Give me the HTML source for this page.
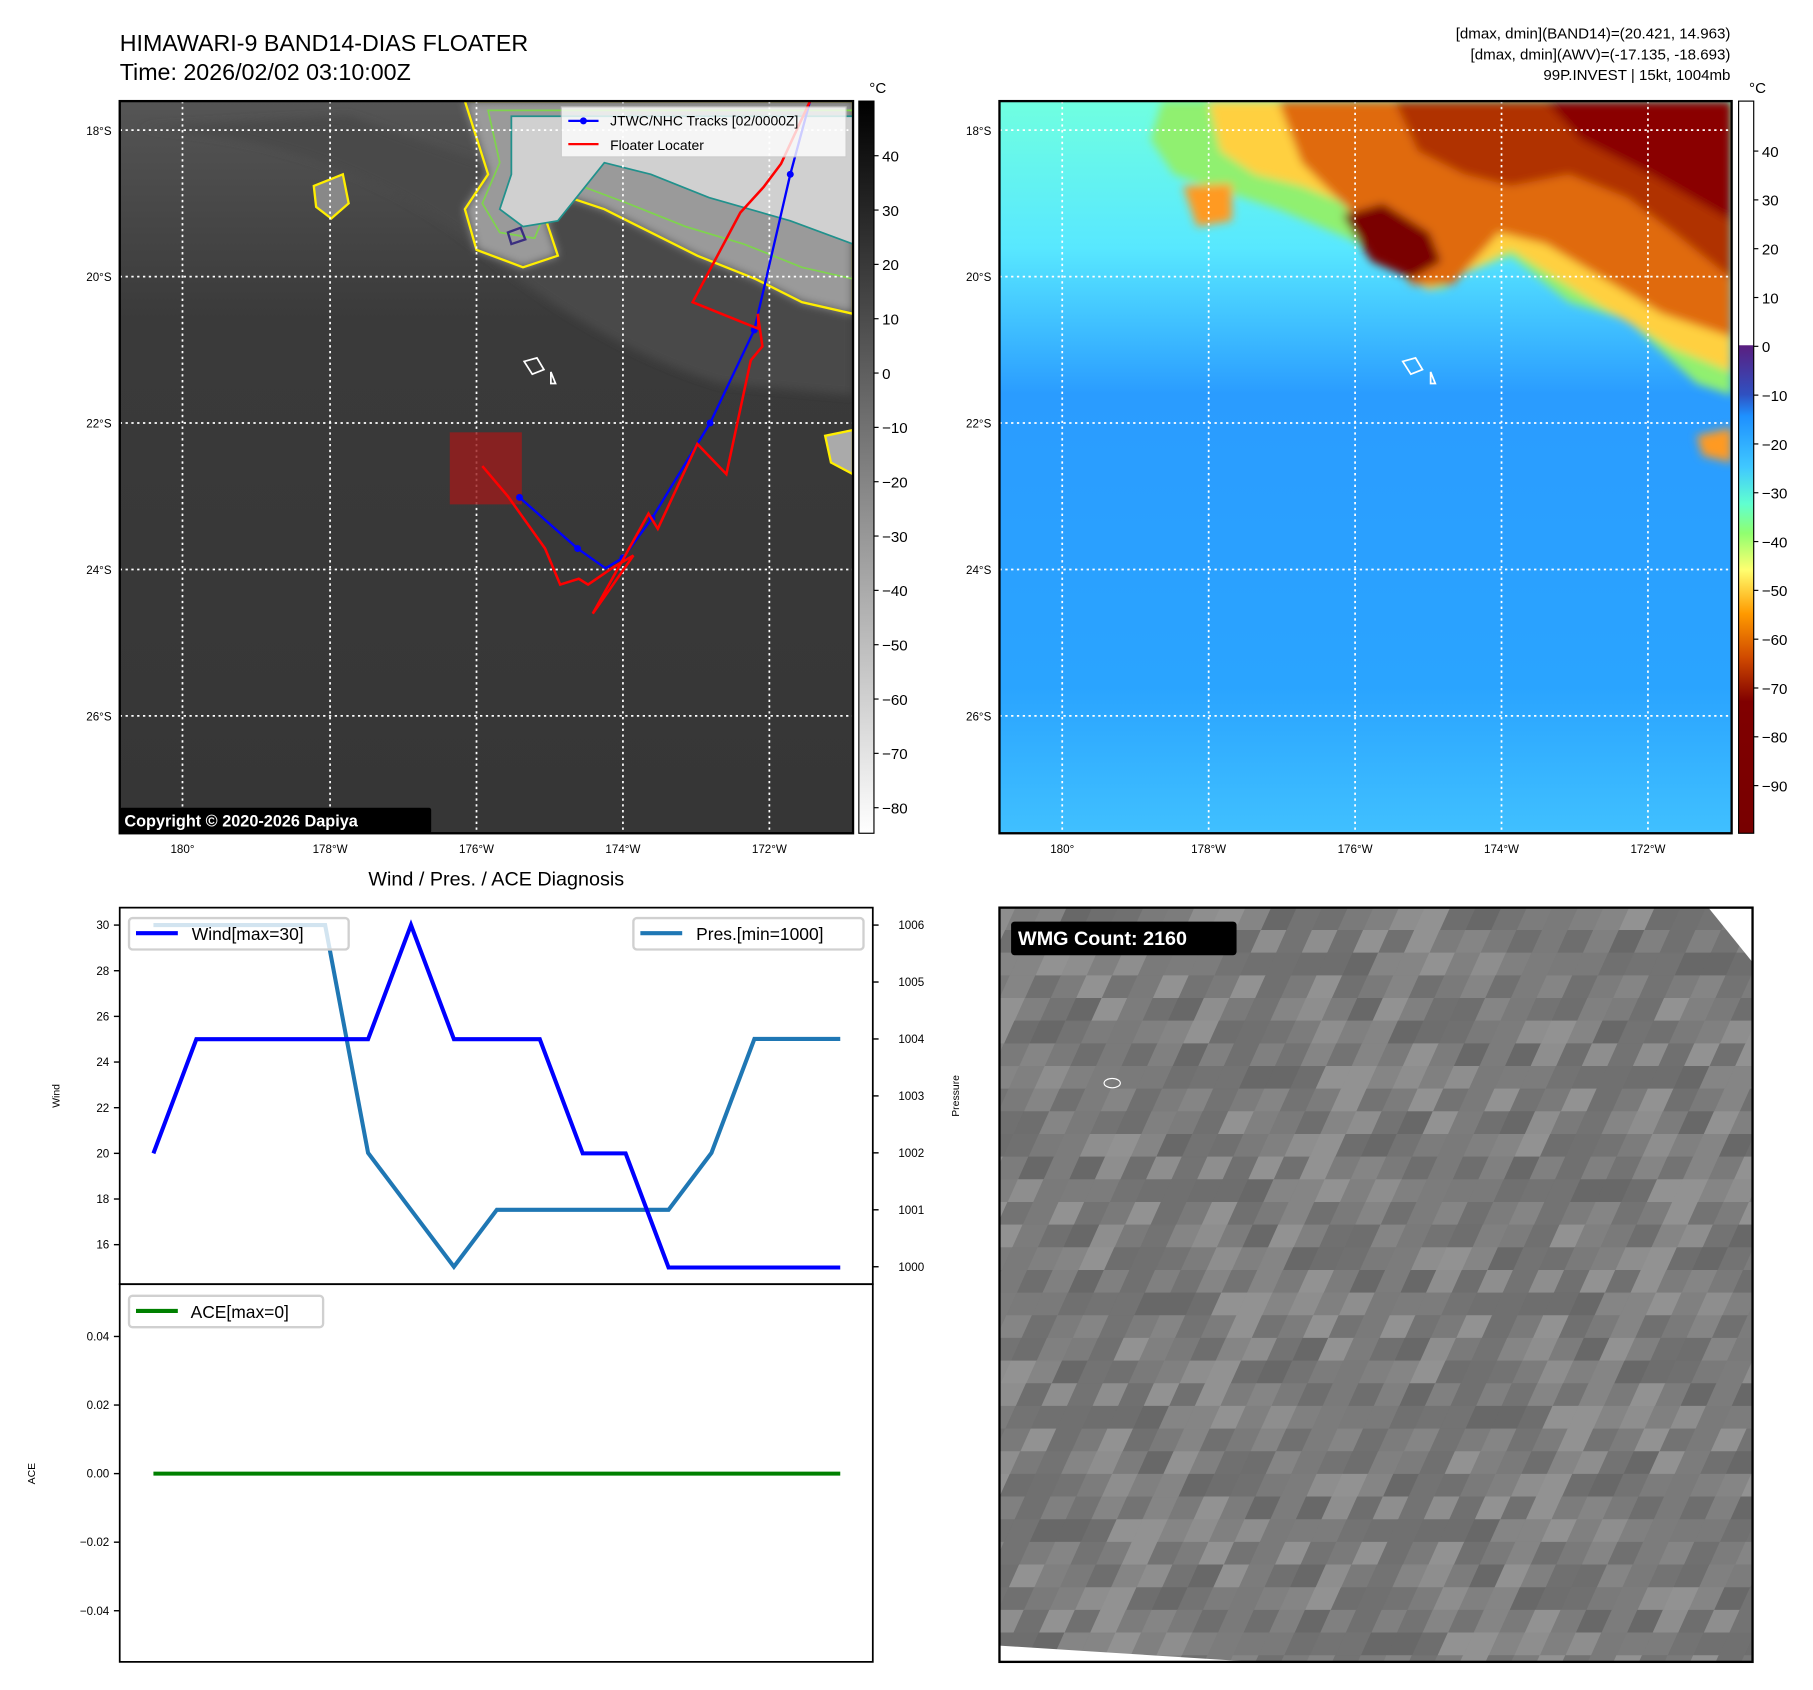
<!DOCTYPE html>
<html><head><meta charset="utf-8">
<style>
html,body{margin:0;padding:0;background:#fff;}
svg{display:block;font-family:"Liberation Sans","DejaVu Sans",sans-serif;}
</style></head>
<body>
<svg id="root" width="1813" height="1690" viewBox="0 0 1560 1454.2" xmlns="http://www.w3.org/2000/svg">
<defs>
  <linearGradient id="cb1" x1="0" y1="0" x2="0" y2="1">
    <stop offset="0" stop-color="#000"/><stop offset="1" stop-color="#fff"/>
  </linearGradient>
  <linearGradient id="cb2" x1="0" y1="0" x2="0" y2="1">
    <stop offset="0" stop-color="#fff"/><stop offset="0.333" stop-color="#fff"/>
    <stop offset="0.334" stop-color="#5a1f80"/><stop offset="0.40" stop-color="#3050c0"/>
    <stop offset="0.43" stop-color="#1e90ff"/><stop offset="0.50" stop-color="#40c8ff"/>
    <stop offset="0.55" stop-color="#60ffd0"/><stop offset="0.59" stop-color="#90ff70"/>
    <stop offset="0.64" stop-color="#ffff70"/><stop offset="0.70" stop-color="#ff9a00"/>
    <stop offset="0.76" stop-color="#d04a00"/><stop offset="0.82" stop-color="#800000"/>
    <stop offset="1" stop-color="#780000"/>
  </linearGradient>
  <linearGradient id="bg2" x1="0" y1="0" x2="0" y2="1">
    <stop offset="0" stop-color="#70ffe0"/><stop offset="0.2" stop-color="#58e8ff"/>
    <stop offset="0.4" stop-color="#2a9cff"/><stop offset="0.8" stop-color="#2aa4ff"/>
    <stop offset="1" stop-color="#40c0ff"/>
  </linearGradient>
  <linearGradient id="bg1" x1="0" y1="0" x2="0" y2="1">
    <stop offset="0" stop-color="#555"/><stop offset="0.3" stop-color="#3a3a3a"/>
    <stop offset="1" stop-color="#363636"/>
  </linearGradient>
  <filter id="blur4"><feGaussianBlur stdDeviation="4"/></filter>
  <clipPath id="clip1"><rect x="103" y="87" width="631" height="630"/></clipPath>
  <clipPath id="clip2"><rect x="860" y="87" width="630" height="630"/></clipPath>
  <clipPath id="clip3"><rect x="860" y="781" width="648" height="649"/></clipPath>
</defs>

<text x="103" y="44" font-size="20">HIMAWARI-9 BAND14-DIAS FLOATER</text>
<text x="103" y="69" font-size="20">Time: 2026/02/02 03:10:00Z</text>
<g font-size="13" text-anchor="end">
  <text x="1489" y="33">[dmax, dmin](BAND14)=(20.421, 14.963)</text>
  <text x="1489" y="51">[dmax, dmin](AWV)=(-17.135, -18.693)</text>
  <text x="1489" y="69">99P.INVEST | 15kt, 1004mb</text>
</g>

<g>
  <g clip-path="url(#clip1)">
    <rect x="103" y="87" width="631" height="630" fill="url(#bg1)"/>
    <path d="M120,110 Q300,120 420,220 Q520,300 620,330 L734,340 L734,200 L500,170 L300,100 Z" fill="#4a4a4a" filter="url(#blur4)"/>
    <path d="M400,87 L734,87 L734,270 L690,260 L650,240 L600,220 L560,200 L520,180 L490,170 L470,190 L480,220 L450,230 L410,215 L400,180 L420,150 Z" fill="#9a9a9a" filter="url(#blur4)"/>
    <path d="M400,87 L734,87 L734,270 L690,260 L650,240 L600,220 L560,200 L520,180 L490,170 L470,190 L480,220 L450,230 L410,215 L400,180 L420,150 Z" fill="none" stroke="#ffee00" stroke-width="2"/>
    <path d="M420,95 L734,95 L734,240 L690,230 L640,210 L590,195 L540,175 L500,160 L470,180 L460,205 L430,200 L415,175 L430,140 Z" fill="none" stroke="#7fd34e" stroke-width="1.5"/>
    <path d="M440,100 L734,100 L734,210 L680,190 L610,170 L560,150 L520,140 L480,190 L450,195 L430,180 L440,150 Z" fill="#d0d0d0" stroke="#21918c" stroke-width="1.5" filter="none"/>
    <path d="M437,200 L448,196 L452,206 L440,210 Z" fill="none" stroke="#3b2f80" stroke-width="2"/>
    <path d="M270,160 L295,150 L300,175 L285,188 L272,178 Z" fill="#888" stroke="#ffee00" stroke-width="2"/>
    <path d="M710,375 L734,370 L734,408 L715,398 Z" fill="#aaa" stroke="#ffee00" stroke-width="2"/>
    <g stroke="#fff" stroke-width="1.5" stroke-dasharray="2,3">
      <line x1="157" y1="87" x2="157" y2="717"/><line x1="284" y1="87" x2="284" y2="717"/>
      <line x1="410" y1="87" x2="410" y2="717"/><line x1="536" y1="87" x2="536" y2="717"/>
      <line x1="662" y1="87" x2="662" y2="717"/>
      <line x1="103" y1="112" x2="734" y2="112"/><line x1="103" y1="238" x2="734" y2="238"/>
      <line x1="103" y1="364" x2="734" y2="364"/><line x1="103" y1="490" x2="734" y2="490"/>
      <line x1="103" y1="616" x2="734" y2="616"/>
    </g>
    <path d="M451,311 L462,308 L468,318 L458,322 Z M474,320 L478,330 L474,330 Z" fill="none" stroke="#fff" stroke-width="1.5"/>
    <rect x="387" y="372" width="62" height="62" fill="#9b1c1c" opacity="0.8"/>
    <polyline points="697,87 680,150 649,284 611,364 561,446 536,480 521,489 497,472 447,428" fill="none" stroke="#0000ff" stroke-width="2"/>
    <g fill="#0000ff"><circle cx="680" cy="150" r="3"/><circle cx="649" cy="284" r="3"/><circle cx="611" cy="364" r="3"/><circle cx="561" cy="446" r="3"/><circle cx="536" cy="480" r="3"/><circle cx="497" cy="472" r="3"/><circle cx="447" cy="428" r="3"/></g>
    <polyline points="697,87 672,141 657,161 637,183 596,260 653,283 652,270 656,298 646,310 625,408 600,382 566,455 558,442 510,528 545,478 528,488 506,503 498,498 482,503 469,472 437,427 415,401" fill="none" stroke="#ff0000" stroke-width="2.2"/>
  </g>
  <rect x="103" y="87" width="631" height="630" fill="none" stroke="#000" stroke-width="2"/>
  <g>
    <rect x="483" y="92" width="245" height="43" fill="#fff" opacity="0.8" stroke="#ccc"/>
    <line x1="489" y1="104" x2="515" y2="104" stroke="#0000ff" stroke-width="2"/><circle cx="502" cy="104" r="3" fill="#0000ff"/>
    <text x="525" y="108" font-size="12">JTWC/NHC Tracks [02/0000Z]</text>
    <line x1="489" y1="124" x2="515" y2="124" stroke="#ff0000" stroke-width="2"/>
    <text x="525" y="129" font-size="12">Floater Locater</text>
  </g>
  <rect x="103" y="695" width="268" height="22" fill="#000" rx="2"/>
  <text x="107" y="711" font-size="14" font-weight="bold" fill="#fff">Copyright © 2020-2026 Dapiya</text>
  <g font-size="10" text-anchor="end">
    <text x="96" y="116">18°S</text><text x="96" y="242">20°S</text><text x="96" y="368">22°S</text><text x="96" y="494">24°S</text><text x="96" y="620">26°S</text>
  </g>
  <g font-size="10" text-anchor="middle">
    <text x="157" y="734">180°</text><text x="284" y="734">178°W</text><text x="410" y="734">176°W</text><text x="536" y="734">174°W</text><text x="662" y="734">172°W</text>
  </g>
</g>
<g>
  <rect x="739" y="87" width="13" height="630" fill="url(#cb1)" stroke="#000" stroke-width="1"/>
  <text x="748" y="80" font-size="13">°C</text>
  <g font-size="13" id="cb1labels"></g>
</g>

<g>
  <g clip-path="url(#clip2)">
    <rect x="860" y="87" width="630" height="630" fill="url(#bg2)"/>
    <g filter="url(#blur4)">
    <path d="M1000,87 L1490,87 L1490,340 L1460,330 L1400,275 L1350,260 L1300,220 L1260,235 L1240,250 L1210,230 L1160,205 L1100,180 L1040,160 L1010,150 L990,120 Z" fill="#90f070"/>
    <path d="M1040,87 L1490,87 L1490,320 L1440,300 L1380,265 L1340,240 L1300,215 L1260,235 L1230,250 L1200,230 L1170,180 L1120,160 L1080,150 L1050,130 Z" fill="#ffd040"/>
    <path d="M1100,87 L1490,87 L1490,290 L1430,270 L1380,240 L1330,210 L1290,200 L1250,245 L1215,245 L1180,200 L1150,170 L1120,140 Z" fill="#e06a10"/>
    <path d="M1200,87 L1490,87 L1490,240 L1440,200 L1400,170 L1350,150 L1300,160 L1260,150 L1220,130 Z" fill="#b03000"/>
    <path d="M1155,185 L1190,175 L1230,200 L1240,225 L1215,240 L1180,225 Z" fill="#7a0000"/>
    <path d="M1330,87 L1490,87 L1490,190 L1420,150 L1360,120 Z" fill="#8a0000"/>
    <path d="M1018,160 L1060,158 L1060,190 L1030,195 Z" fill="#ff9a20"/>
    <path d="M1460,375 L1490,368 L1490,398 L1465,392 Z" fill="#ff9a20"/>
    </g>
    <g stroke="#fff" stroke-width="1.5" stroke-dasharray="2,3">
      <line x1="914" y1="87" x2="914" y2="717"/><line x1="1040" y1="87" x2="1040" y2="717"/>
      <line x1="1166" y1="87" x2="1166" y2="717"/><line x1="1292" y1="87" x2="1292" y2="717"/>
      <line x1="1418" y1="87" x2="1418" y2="717"/>
      <line x1="860" y1="112" x2="1490" y2="112"/><line x1="860" y1="238" x2="1490" y2="238"/>
      <line x1="860" y1="364" x2="1490" y2="364"/><line x1="860" y1="490" x2="1490" y2="490"/>
      <line x1="860" y1="616" x2="1490" y2="616"/>
    </g>
    <path d="M1207,311 L1218,308 L1224,318 L1214,322 Z M1231,320 L1235,330 L1231,330 Z" fill="none" stroke="#fff" stroke-width="1.5"/>
  </g>
  <rect x="860" y="87" width="630" height="630" fill="none" stroke="#000" stroke-width="2"/>
  <g font-size="10" text-anchor="end">
    <text x="853" y="116">18°S</text><text x="853" y="242">20°S</text><text x="853" y="368">22°S</text><text x="853" y="494">24°S</text><text x="853" y="620">26°S</text>
  </g>
  <g font-size="10" text-anchor="middle">
    <text x="914" y="734">180°</text><text x="1040" y="734">178°W</text><text x="1166" y="734">176°W</text><text x="1292" y="734">174°W</text><text x="1418" y="734">172°W</text>
  </g>
</g>
<g>
  <rect x="1496" y="87" width="13" height="630" fill="url(#cb2)" stroke="#000" stroke-width="1"/>
  <text x="1505" y="80" font-size="13">°C</text>
  <g font-size="13" id="cb2labels"></g>
</g>

<text x="427" y="762" font-size="17" text-anchor="middle">Wind / Pres. / ACE Diagnosis</text>
<g id="windchart"></g>
<g id="acechart"></g>

<g>
  <g clip-path="url(#clip3)" id="wmg">
    <rect x="860" y="781" width="648" height="649" fill="#767676"/>
  </g>
  <path d="M1470,781 L1508,781 L1508,828 Z" fill="#fff"/>
  <path d="M860,1416 L1080,1430 L860,1430 Z" fill="#fff"/>
  <ellipse cx="957" cy="932" rx="7" ry="4" fill="none" stroke="#fff" stroke-width="1"/>
  <rect x="860" y="781" width="648" height="649" fill="none" stroke="#000" stroke-width="2"/>
  <rect x="870" y="793" width="194" height="29" rx="3" fill="#000"/>
  <text x="876" y="813" font-size="17" font-weight="bold" fill="#fff">WMG Count: 2160</text>
</g>

<script>
const timeIndex = [0,1,2,3,4,5,6,7,8,9,10,11,12,13,14,15,16];
const windValues = [20,25,25,25,25,25,30,25,25,25,20,20,15,15,15,15,15];
const pressureValues = [1006,1006,1006,1006,1006,1002,1001,1000,1001,1001,1001,1001,1001,1002,1004,1004,1004];
const aceValues = [0,0,0,0,0,0,0,0,0,0,0,0,0,0,0,0,0];
const windTicks = [16,18,20,22,24,26,28,30];
const pressureTicks = [1000,1001,1002,1003,1004,1005,1006];
const aceTicks = [-0.04,-0.02,0.00,0.02,0.04];
const aceTickLabels = ["\u22120.04","\u22120.02","0.00","0.02","0.04"];
const irCbarTicks = [40,30,20,10,0,-10,-20,-30,-40,-50,-60,-70,-80];
const awvCbarTicks = [40,30,20,10,0,-10,-20,-30,-40,-50,-60,-70,-80,-90];

const NS = "http://www.w3.org/2000/svg";
function mk(tag, attrs, parent){const e=document.createElementNS(NS,tag);for(const k in attrs)e.setAttribute(k,attrs[k]);parent.appendChild(e);return e;}
function fmtNeg(v){return v<0?"\u2212"+Math.abs(v):String(v);}

const X0=103, X1=751;
const xScale = i => 132 + (723-132)*i/(timeIndex.length-1);
const windY = v => 796 + (30-v)*(1071-796)/14;
const presY = v => 796 + (1006-v)*(1090-796)/6;
const aceY = v => 1268 - v*(1268-1150)/0.04;

const wc = document.getElementById('windchart');
const frame1 = mk('rect',{x:X0,y:781,width:X1-X0,height:324,fill:'none',stroke:'#000','stroke-width':1.5},wc);


windTicks.forEach(t=>{
  const y=windY(t);
  mk('line',{x1:X0-5,y1:y,x2:X0,y2:y,stroke:'#000','stroke-width':1.2},wc);
  const tx=mk('text',{x:X0-9,y:y+3.5,'font-size':10,'text-anchor':'end'},wc);tx.textContent=t;
  
  
});
pressureTicks.forEach(t=>{
  const y=presY(t);
  mk('line',{x1:X1,y1:y,x2:X1+5,y2:y,stroke:'#000','stroke-width':1.2},wc);
  const tx=mk('text',{x:X1+22,y:y+3.5,'font-size':10},wc);tx.textContent=t;
  
  
});
const wl=mk('text',{x:0,y:0,'font-size':9,'text-anchor':'middle',transform:'translate(51,943) rotate(-90)'},wc);wl.textContent='Wind';


const pl=mk('text',{x:0,y:0,'font-size':9,'text-anchor':'middle',transform:'translate(825,943) rotate(-90)'},wc);pl.textContent='Pressure';


const presLine=mk('polyline',{points:pressureValues.map((v,i)=>xScale(i)+','+presY(v)).join(' '),fill:'none',stroke:'#1f77b4','stroke-width':3.5},wc);


const windLine=mk('polyline',{points:windValues.map((v,i)=>xScale(i)+','+windY(v)).join(' '),fill:'none',stroke:'#0000ff','stroke-width':3.5},wc);


const lg1=mk('g',{},wc);


mk('rect',{x:111,y:790,width:189,height:27,rx:3,fill:'#fff','fill-opacity':0.8,stroke:'#d0d0d0','stroke-width':2},lg1);
mk('line',{x1:117,y1:803,x2:153,y2:803,stroke:'#0000ff','stroke-width':3.5},lg1);
mk('text',{x:165,y:809,'font-size':15},lg1).textContent='Wind[max=30]';
const lg2=mk('g',{},wc);


mk('rect',{x:545,y:790,width:198,height:27,rx:3,fill:'#fff','fill-opacity':0.8,stroke:'#d0d0d0','stroke-width':2},lg2);
mk('line',{x1:551,y1:803,x2:587,y2:803,stroke:'#1f77b4','stroke-width':3.5},lg2);
mk('text',{x:599,y:809,'font-size':15},lg2).textContent='Pres.[min=1000]';

const ac = document.getElementById('acechart');
const frame2 = mk('rect',{x:X0,y:1105,width:X1-X0,height:325,fill:'none',stroke:'#000','stroke-width':1.5},ac);


aceTicks.forEach((t,i)=>{
  const y=aceY(t);
  mk('line',{x1:X0-5,y1:y,x2:X0,y2:y,stroke:'#000','stroke-width':1.2},ac);
  const tx=mk('text',{x:X0-9,y:y+3.5,'font-size':10,'text-anchor':'end'},ac);tx.textContent=aceTickLabels[i];
  
  
});
const al=mk('text',{x:0,y:0,'font-size':9,'text-anchor':'middle',transform:'translate(30,1268) rotate(-90)'},ac);al.textContent='ACE';


const aceLine=mk('polyline',{points:aceValues.map((v,i)=>xScale(i)+','+aceY(v)).join(' '),fill:'none',stroke:'#008000','stroke-width':3.5},ac);


const lg3=mk('g',{},ac);


mk('rect',{x:111,y:1115,width:167,height:27,rx:3,fill:'#fff','fill-opacity':0.8,stroke:'#d0d0d0','stroke-width':2},lg3);
mk('line',{x1:117,y1:1128,x2:153,y2:1128,stroke:'#008000','stroke-width':3.5},lg3);
mk('text',{x:164,y:1134,'font-size':15},lg3).textContent='ACE[max=0]';

const c1=document.getElementById('cb1labels');
irCbarTicks.forEach(t=>{
  const y=134+(40-t)*(695-134)/120;
  mk('line',{x1:752,y1:y,x2:756,y2:y,stroke:'#000'},c1);
  const tx=mk('text',{x:759,y:y+5},c1);tx.textContent=fmtNeg(t);
  
  
});
const c2=document.getElementById('cb2labels');
awvCbarTicks.forEach(t=>{
  const y=130+(40-t)*(676-130)/130;
  mk('line',{x1:1509,y1:y,x2:1513,y2:y,stroke:'#000'},c2);
  const tx=mk('text',{x:1516,y:y+5},c2);tx.textContent=fmtNeg(t);
  
  
});

const wg=document.getElementById('wmg');
const shades=['#6e6e6e','#7c7c7c','#858585','#707070','#8e8e8e','#686868','#7a7a7a','#929292','#737373','#808080'];
for(let r=0;r<34;r++){
  for(let c=-6;c<44;c++){
    const k=(((r*7+c*3+((r*c)%5)+Math.floor(c/3)*2)%10)+10)%10;
    const x=860+c*22-r*9+80, y=781+r*19.5;
    mk('polygon',{points:`${x},${y} ${x+22},${y} ${x+22-9},${y+20} ${x-9},${y+20}`,fill:shades[k],stroke:shades[k],'stroke-width':0.5},wg);
  }
}
</script>
</svg>
</body></html>
